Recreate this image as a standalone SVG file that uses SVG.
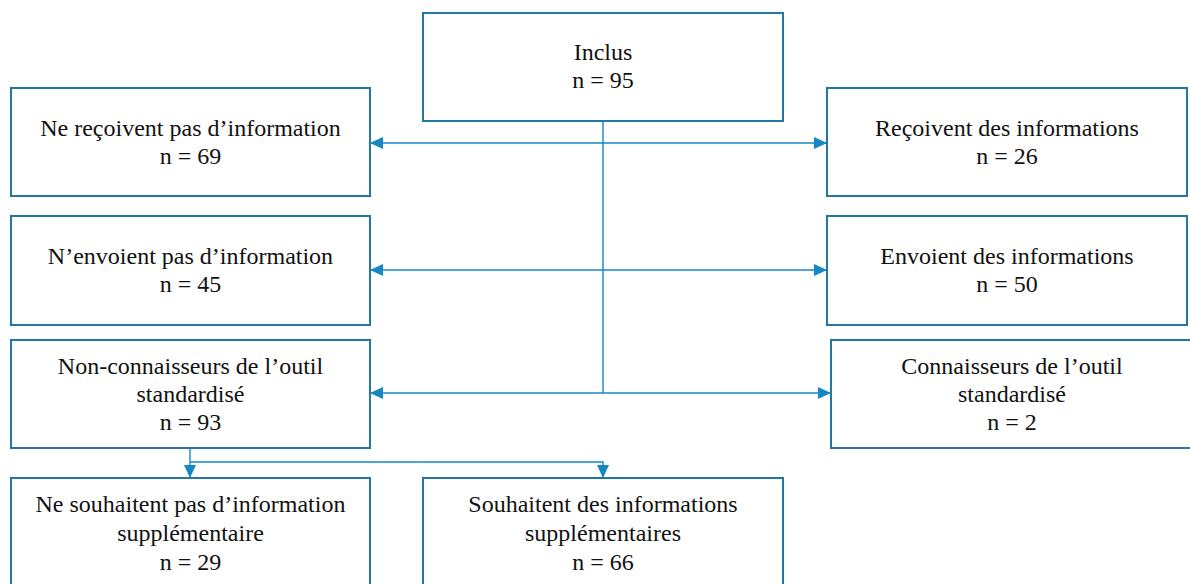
<svg xmlns="http://www.w3.org/2000/svg" width="1190" height="584" viewBox="0 0 1190 584">
<style>
.box{fill:#fff;stroke:#24789f;stroke-width:2}
.t{font-family:"Liberation Serif","Times New Roman",serif;font-size:24px;fill:#111;text-anchor:middle}
.c{fill:none;stroke:#1388c2;stroke-width:1.4}
</style>
<defs>
<marker id="ah" markerUnits="userSpaceOnUse" markerWidth="14" markerHeight="12" refX="13" refY="6" orient="auto">
<path d="M0,0 L13,6 L0,12 Z" fill="#1388c2"/>
</marker>
</defs>
<rect width="1190" height="584" fill="#fff"/>
<g id="connectors">
<path class="c" d="M603 121 V393"/>
<path class="c" d="M603 143 H370" marker-end="url(#ah)"/>
<path class="c" d="M603 143 H827" marker-end="url(#ah)"/>
<path class="c" d="M603 270 H370" marker-end="url(#ah)"/>
<path class="c" d="M603 270 H827" marker-end="url(#ah)"/>
<path class="c" d="M603 393 H370" marker-end="url(#ah)"/>
<path class="c" d="M603 393 H831" marker-end="url(#ah)"/>
<path class="c" d="M190 448 V478" marker-end="url(#ah)"/>
<path class="c" d="M190 462 H603 V478" marker-end="url(#ah)"/>
</g>
<g id="inclus">
<rect class="box" x="423" y="13" width="360" height="108"/>
<text class="t" x="603" y="60">Inclus</text>
<text class="t" x="603" y="88">n = 95</text>
</g>
<g id="ne-recoivent">
<rect class="box" x="11" y="88" width="359" height="108"/>
<text class="t" x="190.5" y="136">Ne reçoivent pas d’information</text>
<text class="t" x="190.5" y="164">n = 69</text>
</g>
<g id="recoivent">
<rect class="box" x="827" y="88" width="360" height="108"/>
<text class="t" x="1007" y="136">Reçoivent des informations</text>
<text class="t" x="1007" y="164">n = 26</text>
</g>
<g id="n-envoient">
<rect class="box" x="11" y="216" width="359" height="109"/>
<text class="t" x="190.5" y="264">N’envoient pas d’information</text>
<text class="t" x="190.5" y="292">n = 45</text>
</g>
<g id="envoient">
<rect class="box" x="827" y="216" width="360" height="109"/>
<text class="t" x="1007" y="264">Envoient des informations</text>
<text class="t" x="1007" y="292">n = 50</text>
</g>
<g id="non-connaisseurs">
<rect class="box" x="11" y="340" width="359" height="108"/>
<text class="t" x="190.5" y="374">Non-connaisseurs de l’outil</text>
<text class="t" x="190.5" y="402">standardisé</text>
<text class="t" x="190.5" y="430">n = 93</text>
</g>
<g id="connaisseurs">
<rect class="box" x="831" y="340" width="364" height="108"/>
<text class="t" x="1012" y="374">Connaisseurs de l’outil</text>
<text class="t" x="1012" y="402">standardisé</text>
<text class="t" x="1012" y="430">n = 2</text>
</g>
<g id="ne-souhaitent">
<rect class="box" x="11" y="478" width="359" height="120"/>
<text class="t" x="190.5" y="512">Ne souhaitent pas d’information</text>
<text class="t" x="190.5" y="541">supplémentaire</text>
<text class="t" x="190.5" y="570">n = 29</text>
</g>
<g id="souhaitent">
<rect class="box" x="423" y="478" width="360" height="120"/>
<text class="t" x="603" y="512">Souhaitent des informations</text>
<text class="t" x="603" y="541">supplémentaires</text>
<text class="t" x="603" y="570">n = 66</text>
</g>
</svg>
